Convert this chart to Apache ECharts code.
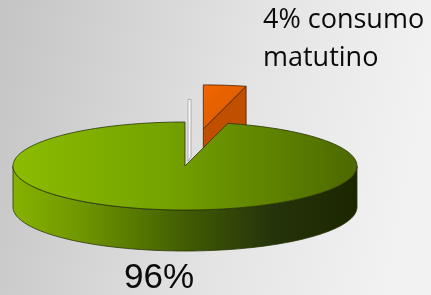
<!DOCTYPE html>
<html>
<head>
<meta charset="utf-8">
<style>
html, body { margin: 0; padding: 0; }
#chart { width: 431px; height: 295px; }
</style>
<script src="https://cdn.jsdelivr.net/npm/echarts@6/dist/echarts.min.js"></script>
</head>
<body>
<div id="chart"></div>
<script>
// slices, clockwise from 12 o'clock
const names = ['consumo matutino', 'resto'];
const values = [4, 96];
const labels = ['4% consumo\nmatutino', '96%'];
const explode = [0.85, 0];

(function () {
    const cx = 185, cy = 166, rx = 172, ry = 44, depth = 41
    const startAngle = 90
    const total = values.reduce((s, v) => s + v, 0)

    function pt(a, ox, oy, dz) {
        const r = a * Math.PI / 180
        return [cx + ox + rx * Math.cos(r), cy + oy - ry * Math.sin(r) + dz]
    }

    function arc(a1, a2, ox, oy, dz) {
        const n = Math.max(6, Math.ceil(Math.abs(a1 - a2) / 1.5))
        const pts = []
        for (let k = 0; k <= n; k++) {
            pts.push(pt(a1 + (a2 - a1) * k / n, ox, oy, dz))
        }
        return pts
    }

    // parts of a decreasing sweep a1 -> a2 lying on the front half
    function frontRanges(a1, a2) {
        const out = []
        for (let k = -2; k <= 1; k++) {
            const lo = Math.max(a2, -180 + 360 * k)
            const hi = Math.min(a1, 360 * k)
            if (lo < hi) out.push([hi, lo])
        }
        return out
    }

    function grad(stops) {
        return new echarts.graphic.LinearGradient(0, 0, 1, 0,
            stops.map(s => ({ offset: s[0], color: s[1] })))
    }

    const styles = [
        {
            top: new echarts.graphic.LinearGradient(0, 0, 1, 1, [
                { offset: 0, color: '#f26600' }, { offset: 1, color: '#d45800' }]),
            side: '#c25000', wall: '#c04f00', line: '#4a2000', z: 0
        },
        {
            top: grad([[0, '#8cbc00'], [0.45, '#74a200'], [1, '#4c6800']]),
            side: grad([[0, '#86b200'], [0.2, '#6f9600'], [0.5, '#415c02'], [0.75, '#25340a'], [1, '#1b2600']]),
            wall: '#5a7a00', line: '#2a3408', z: 10
        }
    ]

    function renderItem(params, api) {
        const i = params.dataIndex
        let before = 0
        for (let k = 0; k < i; k++) before += values[k]
        const a1 = startAngle - 360 * before / total
        const a2 = a1 - 360 * api.value(0) / total
        const mid = (a1 + a2) / 2 * Math.PI / 180
        const ox = rx * explode[i] * Math.cos(mid)
        const oy = -ry * explode[i] * Math.sin(mid)
        const st = styles[i]
        const children = []

        // side wall on the front
        frontRanges(a1, a2).forEach(r => {
            const topPts = arc(r[0], r[1], ox, oy, 0)
            const botPts = arc(r[1], r[0], ox, oy, depth)
            children.push({
                type: 'polygon', z2: st.z + 1,
                shape: { points: topPts.concat(botPts) },
                style: { fill: st.side, stroke: st.line, lineWidth: 0.8 }
            })
        })

        // radial wall at the slice's end edge (exploded slice only)
        if (explode[i] > 0) {
            const c0 = [cx + ox, cy + oy]
            const e0 = pt(a2, ox, oy, 0)
            children.push({
                type: 'polygon', z2: st.z + 1,
                shape: { points: [c0, e0, [e0[0], e0[1] + depth], [c0[0], c0[1] + depth]] },
                style: { fill: st.wall, stroke: st.line, lineWidth: 0.8 }
            })
        } else {
            // thin light edge of the gap
            const g = pt(a1 + 360, 0, 0, 0)
            children.push({
                type: 'polygon', z2: st.z + 3,
                shape: { points: [[cx + 3, g[1] - 24], [cx + 6, g[1] - 24], [cx + 6, cy - 9], [cx + 3, cy - 5]] },
                style: { fill: '#f6f6f6', stroke: '#9a9a9a', lineWidth: 0.7 }
            })
        }

        // top face
        children.push({
            type: 'polygon', z2: st.z + 2,
            shape: { points: [[cx + ox, cy + oy]].concat(arc(a1, a2, ox, oy, 0)) },
            style: { fill: st.top, stroke: st.line, lineWidth: 0.8 }
        })

        return { type: 'group', children: children }
    }

    const myChart = echarts.init(document.getElementById('chart'))

    const option = {
        animation: false,
        backgroundColor: new echarts.graphic.LinearGradient(0, 0, 1, 0.3, [
            { offset: 0, color: '#c4c4c4' }, { offset: 0.6, color: '#e4e4e4' }, { offset: 1, color: '#f2f2f2' }]),
        graphic: [
            {
                type: 'text', left: 263, top: 1,
                style: {
                    text: labels[0], fill: '#0a0a0a', lineHeight: 38,
                    font: '27px "Open Sans", sans-serif'
                }
            },
            {
                type: 'text', left: 124, top: 261,
                style: {
                    text: labels[1], fill: '#0a0a0a',
                    font: '35px "Liberation Sans", Arial, sans-serif'
                }
            }
        ],
        series: [
            {
                type: 'custom',
                coordinateSystem: 'none',
                renderItem: renderItem,
                data: values.map((v, k) => ({ name: names[k], value: [v] }))
            }
        ]
    }

    myChart.setOption(option)

    window.addEventListener('resize', function () {
        myChart.resize()
    })
})();
</script>
</body>
</html>
